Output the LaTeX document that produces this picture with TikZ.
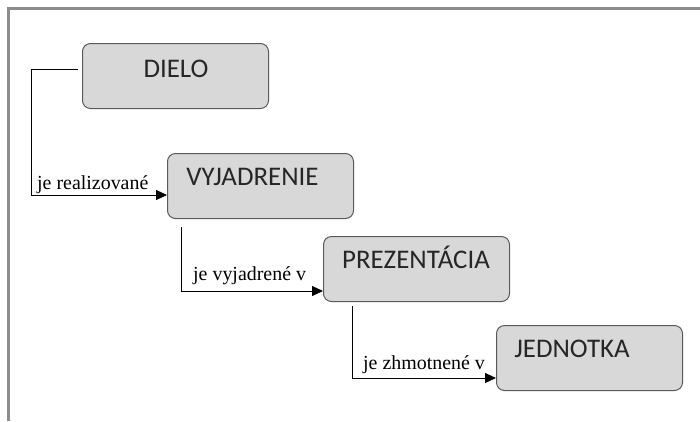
\documentclass[tikz,border=0pt]{standalone}
\usepackage{fontspec}
\setmainfont{Liberation Serif}
\newfontfamily\boxfont{Carlito}
\usetikzlibrary{arrows.meta}
\definecolor{boxfill}{RGB}{216,216,216}
\definecolor{boxline}{RGB}{90,90,90}
\definecolor{framegray}{RGB}{140,140,140}
\tikzset{
  stage/.style={draw=boxline, line width=1bp, fill=boxfill, rounded corners=8bp,
    minimum width=186bp, minimum height=65bp, inner sep=0pt, anchor=north west},
  stagetext/.style={font=\boxfont\fontsize{27}{29}\selectfont, text=black!85, inner sep=0pt, anchor=base},
  link/.style={line width=1bp, -{Triangle[length=11bp,width=10bp]}},
  linklabel/.style={font=\fontsize{20}{22}\selectfont, inner sep=0pt, anchor=base west}
}
\begin{document}
\begin{tikzpicture}[x=1bp,y=-1bp]
\useasboundingbox (0,0) rectangle (700,421);
\draw[framegray, line width=3bp] (8.5,421) -- (8.5,8.5) -- (700,8.5);

\node[stage] (dielo) at (82,43) {};
\node[stagetext] at (176,77) {DIELO};
\node[stage] (vyj) at (167,153) {};
\node[stagetext] at (252.5,185) {VYJADRENIE};
\node[stage] (prez) at (323,236) {};
\node[stagetext] at (416,268) {PREZENTÁCIA};
\node[stage] (jedn) at (496,325) {};
\node[stagetext] at (572,357) {JEDNOTKA};

\coordinate (s1) at (78,69);
\coordinate (s2) at (181,227);
\coordinate (s3) at (352,306);

\draw[link] (s1) -- (31.5,69) |- (vyj.west |- 0,195);
\draw[link] (s2) |- (prez.west |- 0,291);
\draw[link] (s3) |- (jedn.west |- 0,378);

\node[linklabel] at (37,189) {je realizované};
\node[linklabel] at (193,280) {je vyjadrené v};
\node[linklabel] at (363,369) {je zhmotnené v};
\end{tikzpicture}
\end{document}
